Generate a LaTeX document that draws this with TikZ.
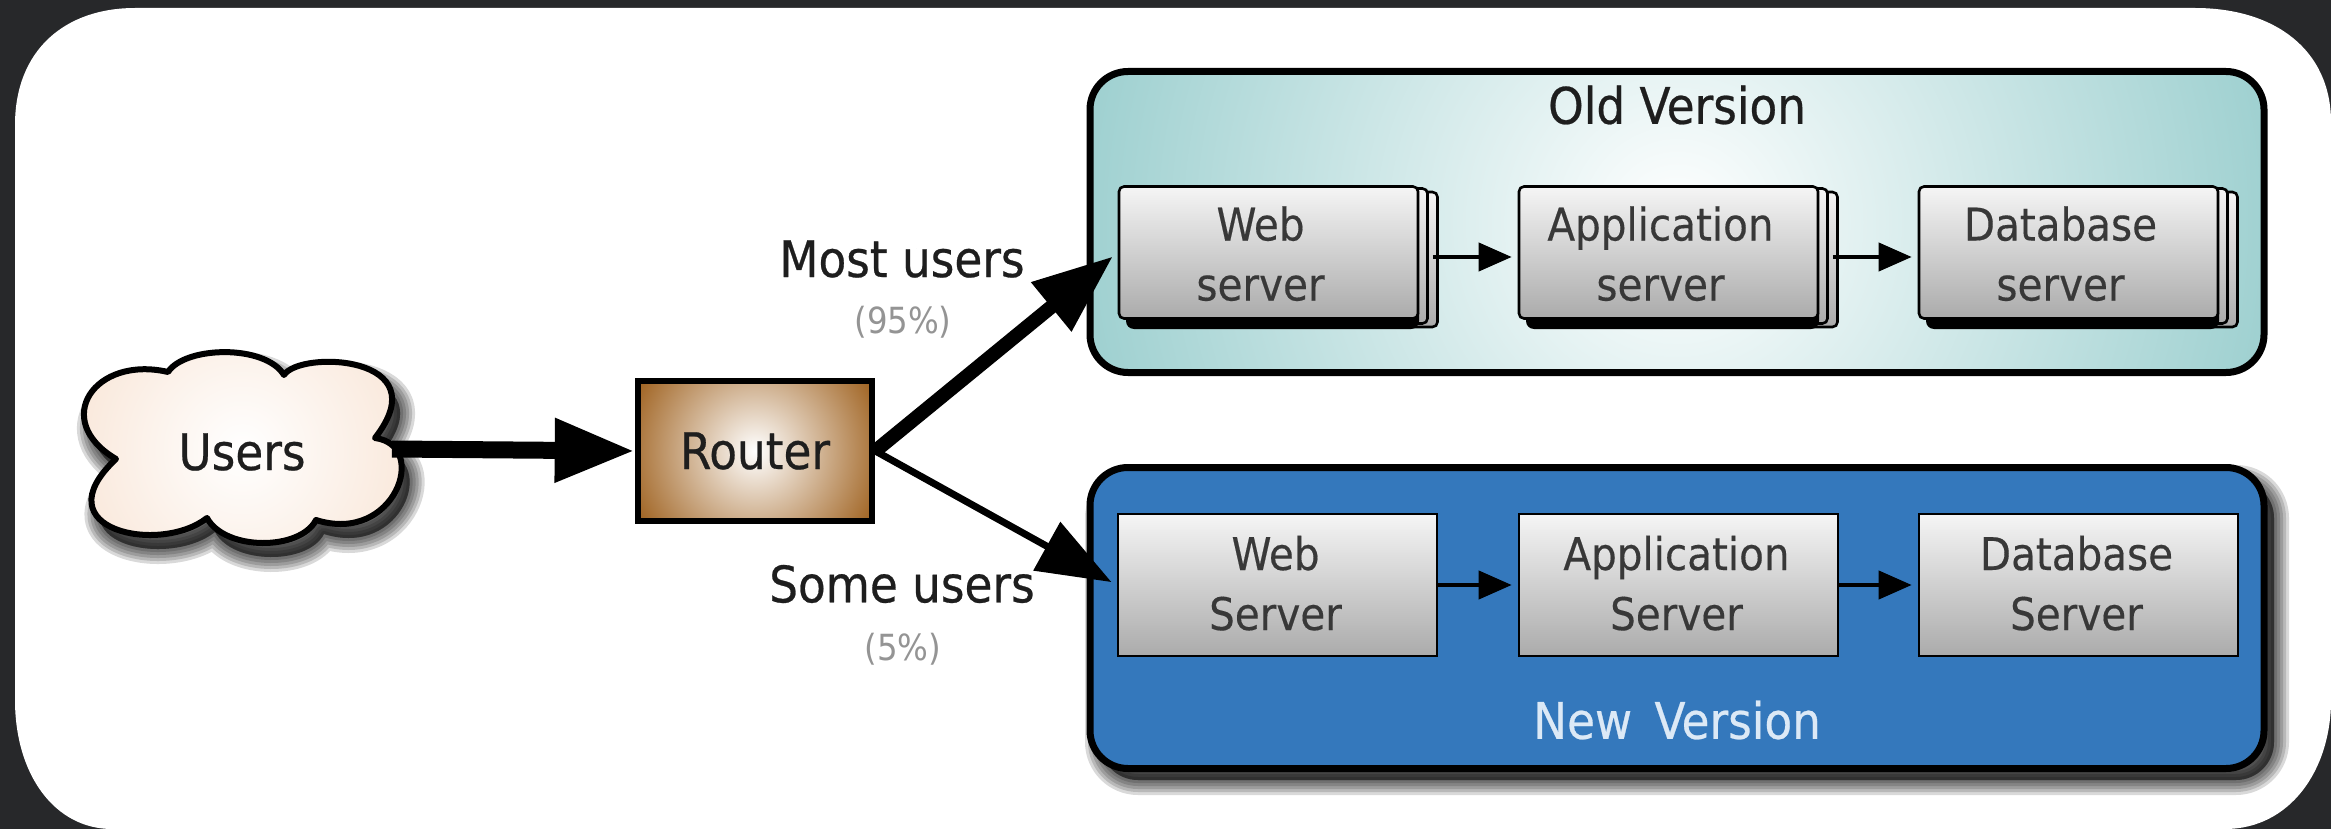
\documentclass[tikz,border=0pt]{standalone}
\usepackage{fontspec}
\setmainfont{DejaVu Sans Condensed}
\newfontfamily\heavyfont[FakeBold=0.5]{DejaVu Sans Condensed}
\newfontfamily\midfont[FakeBold=0.3]{DejaVu Sans Condensed}
\usetikzlibrary{arrows.meta,calc}
\definecolor{bgdark}{HTML}{27282A}
\definecolor{oldteal}{HTML}{A0D1D1}
\definecolor{newblue}{HTML}{3478BC}
\definecolor{brownedge}{HTML}{9F6220}
\definecolor{cloudedge}{HTML}{F9E7D9}
\definecolor{labeldark}{HTML}{1E1E1E}
\definecolor{newlabel}{HTML}{DCE9F6}
\tikzset{
  x=0.5pt,y=-0.5pt,
  lbl/.style={inner sep=0pt,text=labeldark,font=\heavyfont\fontsize{25.2pt}{30pt}\selectfont},
  pct/.style={inner sep=0pt,text=black!42,font=\fontsize{18pt}{21pt}\selectfont},
  sbox/.style={draw=black,line width=1.3pt,minimum width=159.5pt,minimum height=71pt,inner sep=0pt,
    top color=white!96!black,bottom color=black!33,text=black!78,
    font=\midfont\fontsize{22.5pt}{30pt}\selectfont},
  page/.style={sbox,rounded corners=2.5pt},
  group/.style={draw=black,line width=3.5pt,rounded corners=19pt,minimum width=587pt,minimum height=150.5pt,inner sep=0pt},
  big/.style={-{Triangle[length=40pt,width=30pt]},black},
  small/.style={-{Triangle[length=16.5pt,width=14pt]},black,line width=2pt},
}
\newcommand{\twol}[4]{\hspace*{#1}\raisebox{#2}[\height][\depth]{\begin{tabular}{@{}c@{}}#3\\#4\end{tabular}}}
\newcommand{\softshadow}[1]{%
  \foreach \w in {15,12,9,6,3}{\draw[black,fill=black,opacity=0.15,line width=\w pt,line join=round] #1;}}
\newcommand{\stackbox}[4]{%
  \node[page,minimum width=149.5pt,minimum height=67.5pt] (#1c) at (#2+169,259.5) {};
  \node[page,minimum width=149.5pt,minimum height=67.5pt] (#1b) at (#2+159,256) {};
  \fill[black,rounded corners=4pt] (#2+7,305) rectangle (#2+300,329);
  \node[page,minimum width=149.5pt,minimum height=66pt] (#1) at (#2+149.5,252.5) {\twol{-8pt}{-3pt}{#3}{#4}};
}
\begin{document}
\begin{tikzpicture}
\useasboundingbox (0,0) rectangle (2331,829);
\fill[bgdark] (0,0) rectangle (2331,829);
\fill[white] (15,125) .. controls (15,50) and (65,8) .. (135,8) -- (2195,8)
  .. controls (2275,8) and (2331,50) .. (2331,122) -- (2331,700)
  .. controls (2331,770) and (2290,829) .. (2225,829) -- (112,829)
  .. controls (55,829) and (15,775) .. (15,700) -- cycle;

% cloud
\def\cloudpath{(168,372) .. controls (185,346) and (265,344) .. (284,375)
  .. controls (300,350) and (440,355) .. (375,438)
  .. controls (430,445) and (395,545) .. (316,520)
  .. controls (300,551) and (225,551) .. (207,518)
  .. controls (160,555) and (40,530) .. (116,459)
  .. controls (50,420) and (95,355) .. (168,372) -- cycle}
\begin{scope}[shift={(8,14)}]\softshadow{\cloudpath}\end{scope}
\begin{scope}
  \clip \cloudpath;
  \shade[inner color=white,outer color=cloudedge] (242,450) circle (90pt);
\end{scope}
\draw[black,line width=3pt,line join=round] \cloudpath;
\node[lbl] (users) at (242,452) {Users};
\coordinate (usersout) at (392,449);

% router
\node[draw=black,line width=3.3pt,minimum width=117pt,minimum height=70pt,inner sep=0pt,fill=brownedge,
  path picture={\shade[inner color=white,outer color=brownedge] (path picture bounding box.center) circle (68pt);},
  lbl] (router) at (755,451) {Router};

% groups
\node[group,fill=oldteal,path picture={\shade[inner color=white,outer color=oldteal] (path picture bounding box.center) circle (295pt);}] (oldv) at (1677,222) {};
\begin{scope}[shift={(10,12)}]
  \softshadow{(1090,468) [rounded corners=19pt] -- (2264,468) -- (2264,768) -- (1090,768) -- cycle}
\end{scope}
\node[group,fill=newblue] (newv) at (1677,618) {};
\node[lbl] (oldt) at (1677,105) {Old Version};
\node[lbl,text=newlabel] (newt) at (1677,720) {New\hspace{4pt} Version};

% old stacks
\stackbox{w1}{1119}{Web}{server}
\stackbox{a1}{1519}{Application}{server}
\stackbox{d1}{1919}{Database}{server}

% new boxes
\node[sbox] (w2) at (1277.5,585) {\twol{-2pt}{-1.5pt}{Web}{Server}};
\node[sbox] (a2) at (1678.5,585) {\twol{-2pt}{-1.5pt}{Application}{Server}};
\node[sbox] (d2) at (2078.5,585) {\twol{-2pt}{-1.5pt}{Database}{Server}};

% connectors
\draw[big,line width=8.5pt] (usersout) -- (router.west);
\draw[big,line width=7pt,shorten >=3pt] (router.east) -- (w1.west);
\draw[big,line width=3.5pt,{-{Triangle[length=37pt,width=27pt]}},shorten >=3pt] (router.east) -- (w2.west);
\draw[small,shorten <=-3pt,shorten >=3pt] (w1c.east |- 0,257) -- (a1.west |- 0,257);
\draw[small,shorten <=-3pt,shorten >=3pt] (a1c.east |- 0,257) -- (d1.west |- 0,257);
\draw[small,shorten >=3pt] (w2.east) -- (a2.west);
\draw[small,shorten >=3pt] (a2.east) -- (d2.west);

% labels
\node[lbl] (most) at (902,259) {Most users};
\node[pct] (p95) at (903,322) {(95\%)};
\node[lbl] (some) at (902,584) {Some users};
\node[pct] (p5) at (903,649) {(5\%)};
\end{tikzpicture}
\end{document}
